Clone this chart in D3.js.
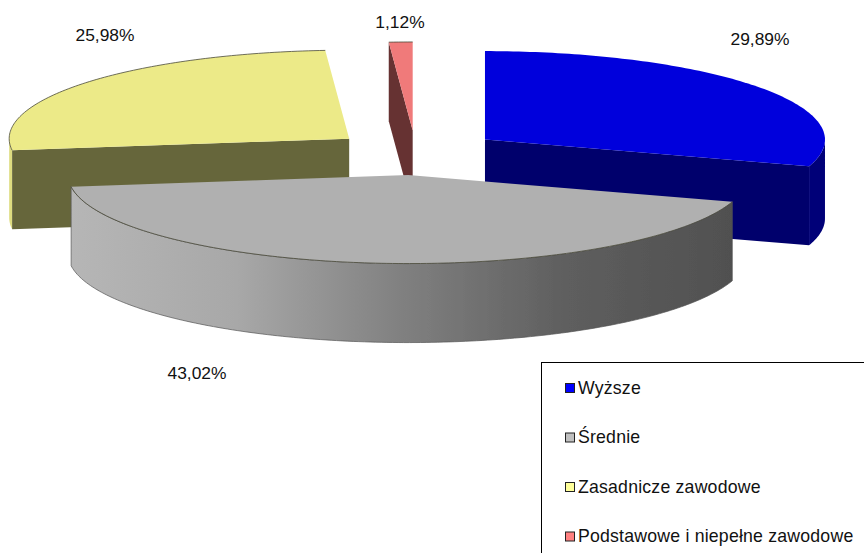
<!DOCTYPE html>
<html>
<head>
<meta charset="utf-8">
<script src="https://cdn.jsdelivr.net/npm/d3@7"></script>
<style>
  html, body { margin: 0; padding: 0; background: #fff; }
  svg { display: block; }
  text { font-family: "Liberation Sans", Arial, sans-serif; fill: #111; }
</style>
</head>
<body>
<svg id="chart" width="864" height="553"></svg>
<script>
// data
const categories = ["Wyższe", "Średnie", "Zasadnicze zawodowe", "Podstawowe i niepełne zawodowe"];
const shares = [29.89, 43.02, 25.98, 1.12];
const shareLabels = ["29,89%", "43,02%", "25,98%", "1,12%"];

// colours
const topColors = ["#0000dc", "#b0b0b0", "#ecea88", "#f07a7a"];
const cutColors = ["#00006c", "#666", "#66663a", "#663333"];
const wallColors = ["#000078", "url(#grayWall)", "#dedc80", "#663333"];
const legendColors = ["#0000ff", "#c0c0c0", "#ffff99", "#ff8080"];

// layout
const width = 864, height = 553;
const centerX = 415.7, centerY = 152.8;
const radiusX = 340, radiusY = 88.5, depth = 79;
const explode = 0.2525;
const labelX = [760, 197, 105, 400];
const labelY = [45, 379, 41, 28];

const svg = d3.select("#chart");

const x = d3.scaleLinear().domain([-1, 1]).range([centerX - radiusX, centerX + radiusX]);
const y = d3.scaleLinear().domain([-1, 1]).range([centerY - radiusY, centerY + radiusY]);

const pie = d3.pie().sort(null).value(d => d);
const slices = pie(shares);

const defs = svg.append("defs");

// the reference is a soft raster, so take the edge off the shapes
defs.append("filter").attr("id", "soft")
    .append("feGaussianBlur").attr("stdDeviation", 0.4);

// gradient for the round side of the grey slice
const grad = defs.append("linearGradient")
    .attr("id", "grayWall")
    .attr("gradientUnits", "userSpaceOnUse")
    .attr("x1", 70).attr("x2", 735).attr("y1", 0).attr("y2", 0);
grad.append("stop").attr("offset", "0%").attr("stop-color", "#b6b6b6");
grad.append("stop").attr("offset", "25%").attr("stop-color", "#a8a8a8");
grad.append("stop").attr("offset", "50%").attr("stop-color", "#808080");
grad.append("stop").attr("offset", "75%").attr("stop-color", "#5e5e5e");
grad.append("stop").attr("offset", "100%").attr("stop-color", "#505050");

// angle is clockwise from the top, r is 0..1 of the radius
function project(d, angle, r, drop) {
  let mid = (d.startAngle + d.endAngle) / 2;
  let ux = r * Math.sin(angle) + explode * Math.sin(mid);
  let uy = -r * Math.cos(angle) - explode * Math.cos(mid);
  return [x(ux), y(uy) + drop];
}

function arcPoints(d, a0, a1, drop) {
  let n = Math.max(2, Math.ceil((a1 - a0) * 60));
  return d3.range(n + 1).map(i => project(d, a0 + (a1 - a0) * i / n, 1, drop));
}

const line = d3.line();

// back to front
const drawOrder = [3, 2, 0, 1];
const half = Math.PI / 2;

drawOrder.forEach(i => {
  let d = slices[i];
  let g = svg.append("g").attr("class", "slice").attr("filter", "url(#soft)");

  // round side, only the part that faces the viewer
  let a0 = Math.max(d.startAngle, half), a1 = Math.min(d.endAngle, 3 * half);
  if (a0 < a1) {
    let pts = arcPoints(d, a0, a1, 0).concat(arcPoints(d, a0, a1, depth).reverse());
    g.append("path")
      .attr("d", line(pts) + "Z")
      .attr("fill", wallColors[i])
      .attr("stroke", i == 1 ? "#555" : "none")
      .attr("stroke-width", 0.7);
  }

  // cut sides
  let cuts = [];
  if (d.startAngle > Math.PI && d.startAngle < 2 * Math.PI) cuts.push(d.startAngle);
  if (d.endAngle > 0 && d.endAngle < Math.PI) cuts.push(d.endAngle);
  cuts.forEach(a => {
    let pts = [project(d, 0, 0, 0), project(d, a, 1, 0), project(d, a, 1, depth), project(d, 0, 0, depth)];
    g.append("path")
      .attr("d", line(pts) + "Z")
      .attr("fill", cutColors[i]);
  });

  // top face
  let top = [project(d, 0, 0, 0)].concat(arcPoints(d, d.startAngle, d.endAngle, 0));
  g.append("path")
    .attr("d", line(top) + "Z")
    .attr("fill", topColors[i]);

  // thin dark rim on the round edge, the blue one has none to speak of
  if (i != 0) {
    g.append("path")
      .attr("d", line(arcPoints(d, d.startAngle, d.endAngle, 0)))
      .attr("fill", "none")
      .attr("stroke", "#4a4a3a")
      .attr("stroke-width", 0.8);
  }
});

// percentage labels
svg.selectAll(".pct")
  .data(shareLabels)
  .join("text")
    .attr("class", "pct")
    .attr("x", (d, i) => labelX[i])
    .attr("y", (d, i) => labelY[i])
    .attr("text-anchor", "middle")
    .style("font-size", "17.4px")
    .text(d => d);

// legend, it runs off the right and bottom edge
svg.append("rect")
    .attr("x", 541.5).attr("y", 362.5)
    .attr("width", 340).attr("height", 220)
    .attr("fill", "#fff")
    .attr("stroke", "#000")
    .attr("stroke-width", 1);

const rowY = d3.scalePoint().domain(categories).range([388, 536.5]);

const rows = svg.selectAll(".legend-row")
  .data(categories)
  .join("g")
    .attr("class", "legend-row")
    .attr("transform", d => `translate(565,${rowY(d)})`);

rows.append("rect")
    .attr("x", 0.5).attr("y", -4.5)
    .attr("width", 9).attr("height", 9)
    .attr("fill", (d, i) => legendColors[i])
    .attr("stroke", "#222")
    .attr("stroke-width", 1);

rows.append("text")
    .attr("x", 13)
    .attr("y", 5.5)
    .style("font-size", "17.7px")
    .style("letter-spacing", "0.2px")
    .text(d => d);
</script>
</body>
</html>
